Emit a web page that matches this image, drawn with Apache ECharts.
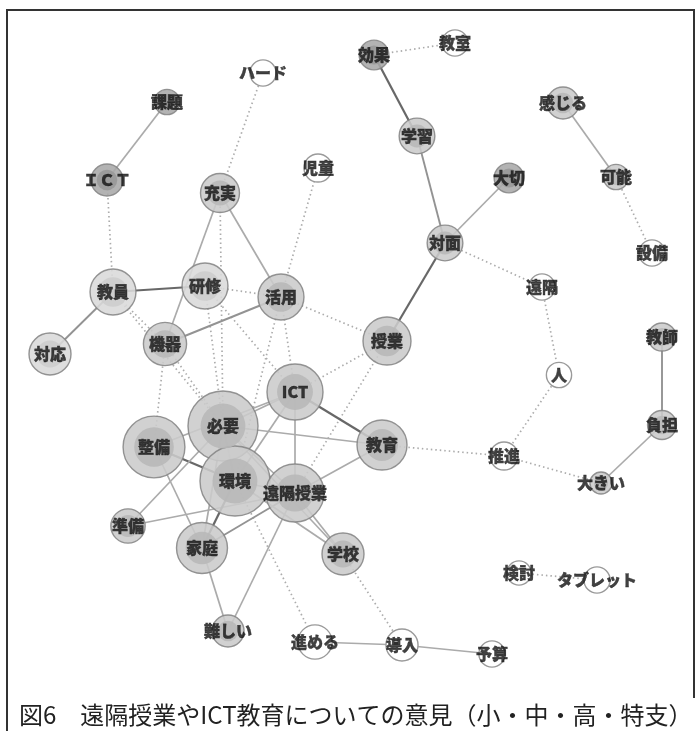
<!DOCTYPE html>
<html>
<head>
<meta charset="utf-8">
<script src="https://cdn.jsdelivr.net/npm/echarts@6/dist/echarts.min.js"></script>
<style>
html,body{margin:0;padding:0;background:#fff;}
#chart{width:700px;height:731px;}
</style>
</head>
<body>
<div id="chart"></div>
<script>
// ---- data (layout coordinates of the co-occurrence network, frequency, centrality class) ----
const nodeNames = ['課題','ＩＣＴ','ハード','児童','充実','教員','研修','活用','機器','対応',
  'ICT','必要','整備','環境','遠隔授業','準備','家庭','難しい','学校','進める',
  '導入','予算','教育','推進','人','負担','大きい','教師','検討','タブレット',
  '効果','教室','感じる','学習','大切','可能','対面','遠隔','設備','授業'];
const nodeX = [167,107,263,318,220,113,205,281,165,50,
  295,223,154,235,295,128,202,228,343,315,
  402,492,382,504,559,662,601,662,519,597,
  374,455,563,417,509,616,445,542,652,387];
const nodeY = [102,180,73,168,193,292,286,297,344,354,
  392,426,447,481,493,526,548,631,554,642,
  645,654,445,456,375,425,483,337,573,580,
  55,43,103,136,178,177,243,287,253,341];
const nodeFreq = [13,21,14,16,31,43,43,43,38,36,
  64,100,78,100,69,24,53,21,36,24,
  21,14,51,16,13,17,10,16,12,14,
  18,14,21,26,18,13,26,14,14,47];
// 0 = white, 1 = light, 2 = medium, 3 = dark
const nodeGroup = [3,3,0,0,2,1,1,2,2,1,
  2,2,2,2,2,2,2,2,2,0,
  0,0,2,0,0,2,2,2,0,0,
  3,0,2,2,3,2,2,0,0,2];

// solid edges: [from, to, strength 1(weak)..3(strong)]
const solidEdges = [
  ['課題','ＩＣＴ',1],['充実','機器',1],['充実','活用',1],['教員','研修',3],['教員','対応',2],
  ['機器','活用',2],['効果','学習',3],['学習','対面',2],['対面','授業',3],['対面','大切',1],
  ['感じる','可能',1],['負担','教師',2],['負担','大きい',1],['進める','導入',1],['導入','予算',1],
  ['ICT','教育',3],['ICT','必要',1],['整備','ICT',1],['ICT','環境',1],['ICT','遠隔授業',1],
  ['必要','教育',1],['必要','環境',1],['必要','遠隔授業',1],['整備','環境',3],['整備','家庭',1],
  ['準備','必要',1],['準備','遠隔授業',1],['家庭','環境',3],['家庭','遠隔授業',2],['家庭','難しい',1],
  ['遠隔授業','難しい',1],['遠隔授業','学校',1],['環境','学校',1],['必要','学校',1],['遠隔授業','教育',1],
  ['環境','遠隔授業',1],['家庭','必要',1]
];
// dotted edges: [from, to]
const dottedEdges = [
  ['ＩＣＴ','教員'],['ハード','充実'],['児童','活用'],['充実','必要'],['研修','必要'],
  ['研修','活用'],['研修','ICT'],['教員','機器'],['教員','必要'],['機器','整備'],
  ['機器','必要'],['活用','ICT'],['活用','環境'],['活用','授業'],['ICT','授業'],
  ['授業','遠隔授業'],['効果','教室'],['対面','遠隔'],['遠隔','人'],['人','推進'],
  ['推進','教育'],['推進','大きい'],['可能','設備'],['検討','タブレット'],['学校','導入'],
  ['環境','進める']
];

const caption = '図6　遠隔授業やICT教育についての意見（小・中・高・特支）';

// ---- styles ----
const outerFill = ['#ffffff','#dadada','#cbcbcb','#a8a8a8'];
const innerFill = ['#ffffff','#cdcdcd','#b8b8b8','#989898'];
const solidColor = {1:'#ababab',2:'#939393',3:'#686868'};
const solidWidth = {1:1.7,2:1.9,3:2.2};
const RADIUS_K = 3.5;

const idx = {};
nodeNames.forEach((n,i)=>{idx[n]=i;});
const pt = n => [nodeX[idx[n]], nodeY[idx[n]]];
const diam = i => 2*RADIUS_K*Math.sqrt(nodeFreq[i]);

const solidData = solidEdges.map(e=>({
  coords:[pt(e[0]),pt(e[1])],
  lineStyle:{color:solidColor[e[2]],width:solidWidth[e[2]],type:'solid',opacity:1}
}));
const dottedData = dottedEdges.map(e=>({coords:[pt(e[0]),pt(e[1])]}));

const outerData = nodeNames.map((n,i)=>({
  name:n, value:[nodeX[i],nodeY[i]], symbolSize:diam(i),
  itemStyle:{color:outerFill[nodeGroup[i]], opacity:nodeGroup[i]===0?1:0.88,
    borderColor:nodeGroup[i]===0?'#9a9a9a':'#858585', borderWidth:1.4}
}));
const innerData = nodeNames.map((n,i)=>({
  name:n, value:[nodeX[i],nodeY[i]], symbolSize:nodeGroup[i]===0?0:diam(i)*0.64,
  itemStyle:{color:innerFill[nodeGroup[i]], opacity:0.9}
}));
const labelData = nodeNames.map((n,i)=>({name:n, value:[nodeX[i],nodeY[i]]}));

const chart = echarts.init(document.getElementById('chart'));
chart.setOption({
  backgroundColor:'#fff',
  animation:false,
  grid:{left:0,right:0,top:0,bottom:0},
  xAxis:{type:'value',min:0,max:700,show:false},
  yAxis:{type:'value',min:0,max:731,inverse:true,show:false},
  series:[
    {type:'lines',coordinateSystem:'cartesian2d',z:1,silent:true,
     lineStyle:{color:'#acacac',width:1.7,type:[1.5,3],opacity:1},data:dottedData},
    {type:'lines',coordinateSystem:'cartesian2d',z:2,silent:true,data:solidData},
    {type:'scatter',z:3,symbol:'circle',data:outerData,silent:true},
    {type:'scatter',z:4,symbol:'circle',data:innerData,silent:true},
    {type:'scatter',z:5,symbolSize:0,data:labelData,silent:true,
     label:{show:true,position:'inside',formatter:p=>p.name,
       fontFamily:'"Noto Sans CJK JP"',fontWeight:900,fontSize:16,color:'#111',
       textBorderColor:'#111',textBorderWidth:0.4}}
  ],
  graphic:[
    {type:'polyline',shape:{points:[[7,731],[7,10],[694,10],[694,698]]},
     style:{stroke:'#333',lineWidth:2,fill:null},z:10},
    {type:'text',left:19,top:703,z:10,
     style:{text:caption,font:'24px "Noto Sans CJK JP"',fill:'#222'}}
  ]
});
</script>
</body>
</html>
